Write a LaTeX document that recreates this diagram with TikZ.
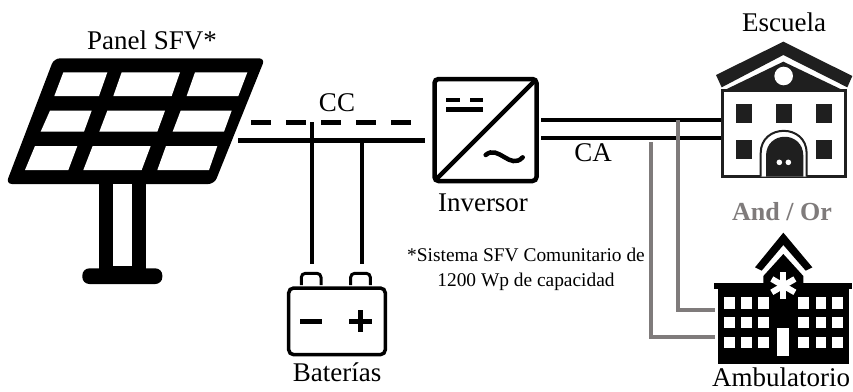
\documentclass[tikz,border=0pt]{standalone}
\usepackage{fontspec}
\usetikzlibrary{calc}
\setmainfont{Liberation Serif}
\definecolor{dark}{HTML}{1F1F1F}
\definecolor{wire}{HTML}{7F7B7B}
\tikzset{
  lbl/.style={inner sep=0pt,font=\fontsize{27}{27}\selectfont,text=black},
  note/.style={inner sep=0pt,font=\fontsize{19.4}{25}\selectfont,align=center},
  dcline/.style={line width=5pt,black},
  dcdash/.style={line width=5pt,black,dash pattern=on 20pt off 15pt},
  drop/.style={line width=4.5pt,black},
  acline/.style={line width=4.5pt,black},
  gline/.style={line width=4.5pt,wire,line join=miter},
  cell/.style={fill=white,draw=none},
  zoomA/.style={shift={(0,20)},x=0.33333pt,y=-0.33333pt},
}
\begin{document}
\begin{tikzpicture}[x=1pt,y=-1pt]
\useasboundingbox[fill=white] (0,0) rectangle (853,391);
% coordinates for connectors
\coordinate (panelDash) at (251,122);
\coordinate (invDash) at (411,122);
\coordinate (panelDC) at (238,140);
\coordinate (invDC) at (425,140);
\coordinate (dropA) at (312,122);
\coordinate (batA) at (312,264);
\coordinate (dropB) at (362,142);
\coordinate (batB) at (362,264);
\coordinate (invA) at (541,120);
\coordinate (invB) at (541,138);
\coordinate (schoolA) at (722,120);
\coordinate (schoolB) at (722,138);
\coordinate (gStartA) at (678,120);
\coordinate (gStartB) at (651,142);
\coordinate (ambA) at (715,310);
\coordinate (ambB) at (715,337);
% connectors
\draw[dcdash] (panelDash) -- (invDash);
\draw[dcline] (panelDC) -- (invDC);
\draw[drop] (dropA) -- (batA);
\draw[drop] (dropB) -- (batB);
\draw[acline] (invA) -- (schoolA);
\draw[acline] (invB) -- (schoolB);
\draw[gline] (gStartA) |- (ambA);
\draw[gline] (gStartB) |- (ambB);
% panel
\begin{scope}[zoomA]
  \fill[black,rounded corners=6pt] (162,115) -- (795,115) -- (643,492) -- (18,492) -- cycle;
  \fill[black] (298,485) rectangle (438,750);
  \fill[white] (338,492) rectangle (397,738);
  \fill[black,rounded corners=7pt] (247,745) rectangle (487,792);
  \path[cell] (190,157) -- (322,157) -- (297,228) -- (163,228) -- cycle;
  \path[cell] (365,157) -- (540,157) -- (515,228) -- (340,228) -- cycle;
  \path[cell] (585,157) -- (742,157) -- (715,228) -- (560,228) -- cycle;
  \path[cell] (150,272) -- (275,272) -- (252,335) -- (122,335) -- cycle;
  \path[cell] (322,272) -- (495,272) -- (472,335) -- (298,335) -- cycle;
  \path[cell] (542,272) -- (695,272) -- (672,335) -- (518,335) -- cycle;
  \path[cell] (105,378) -- (232,378) -- (205,450) -- (75,450) -- cycle;
  \path[cell] (278,378) -- (452,378) -- (425,450) -- (250,450) -- cycle;
  \path[cell] (498,378) -- (652,378) -- (627,450) -- (472,450) -- cycle;
\end{scope}
% inverter
\node[draw=black,line width=4.5pt,rounded corners=4pt,minimum width=102pt,minimum height=102pt,inner sep=0pt] (inv) at (485.5,130) {};
\draw[line width=4.5pt] (inv.south west) ++(3,-3) -- ($(inv.north east)+(-3,3)$);
\begin{scope}[shift={(240,70)},x=0.33333pt,y=-0.33333pt]
  \draw[line width=4.5pt] (618,90) -- (660,90) (690,90) -- (730,90);
  \draw[line width=4.5pt] (618,118) -- (730,118);
  \draw[line width=4.5pt,line cap=round] (737,255) .. controls (775,222) and (810,302) .. (848,262);
\end{scope}
% school
\begin{scope}[shift={(640,0)},x=0.33333pt,y=-0.33333pt]
  \fill[dark] (430,125) -- (637,228) -- (622,262) -- (430,165) -- (245,262) -- (228,225) -- cycle;
  \fill[dark] (430,185) -- (612,272) -- (250,272) -- cycle;
  \fill[white] (431,228) circle (9.3pt);
  \draw[dark,line width=3pt,fill=white] (248,272) rectangle (615,530);
  \fill[dark] (288,312) rectangle (336,370);
  \fill[dark] (408,312) rectangle (455,370);
  \fill[dark] (528,312) rectangle (575,370);
  \fill[dark] (288,420) rectangle (336,477);
  \fill[dark] (528,420) rectangle (575,477);
  \draw[dark,line width=2pt,fill=white] (362,530) -- (362,460) .. controls (362,370) and (500,370) .. (500,460) -- (500,530);
  \fill[dark] (378,530) -- (378,468) .. controls (378,391) and (490,391) .. (490,468) -- (490,530) -- cycle;
  \fill[white] (418,487) circle (2.8pt) (445,487) circle (2.8pt);
\end{scope}
% clinic
\begin{scope}[shift={(640,190)},x=0.33333pt,y=-0.33333pt]
  \fill[black] (345,232) -- (430,128) -- (517,232) -- (497,242) -- (430,165) -- (365,242) -- cycle;
  \fill[black] (370,280) -- (370,258) -- (430,192) -- (490,258) -- (490,280) -- cycle;
  \fill[black] (233,280) rectangle (628,522);
  \fill[black] (223,278) rectangle (637,298);
  \foreach \cx/\cw in {253/32,304/32,355/31,475/32,527/31,577/31}
    \foreach \ry/\rh in {322/34,380/34,440/34}
      \fill[white] (\cx,\ry) rectangle ++(\cw,\rh);
  \fill[white] (410,415) rectangle (448,497);
  \foreach \a in {90,30,150}
    \draw[white,line width=6pt] ($(430,287)+(\a:40)$) -- ($(430,287)+(\a+180:40)$);
\end{scope}
% battery
\begin{scope}[shift={(270,240)},x=0.33333pt,y=-0.33333pt]
  \draw[line width=3.5pt,rounded corners=5pt] (56,144) rectangle (346,344);
  \draw[line width=2pt] (349,155) -- (349,333);
  \draw[line width=3pt,rounded corners=4pt] (94,135) -- (94,100) -- (153,100) -- (153,135);
  \draw[line width=3pt,rounded corners=4pt] (242,135) -- (242,100) -- (301,100) -- (301,135);
  \draw[line width=5pt] (90,243) -- (156,243);
  \draw[line width=5pt] (238,243) -- (305,243) (271,210) -- (271,276);
\end{scope}
% labels
\node[lbl] (lPanel) at (152,40) {Panel SFV*};
\node[lbl] (lCC) at (337,103) {CC};
\node[lbl] (lInv) at (483,203) {Inversor};
\node[lbl] (lCA) at (593,153) {CA};
\node[lbl] (lEsc) at (784,22) {Escuela};
\node[lbl,text=wire,font=\fontsize{26}{26}\selectfont\bfseries] (lAnd) at (782,212) {And / Or};
\node[lbl] (lAmb) at (781,377) {Ambulatorio};
\node[lbl] (lBat) at (337,372) {Baterías};
\node[note] (lNote) at (526,269) {*Sistema SFV Comunitario de\\1200 Wp de capacidad};
\end{tikzpicture}
\end{document}
